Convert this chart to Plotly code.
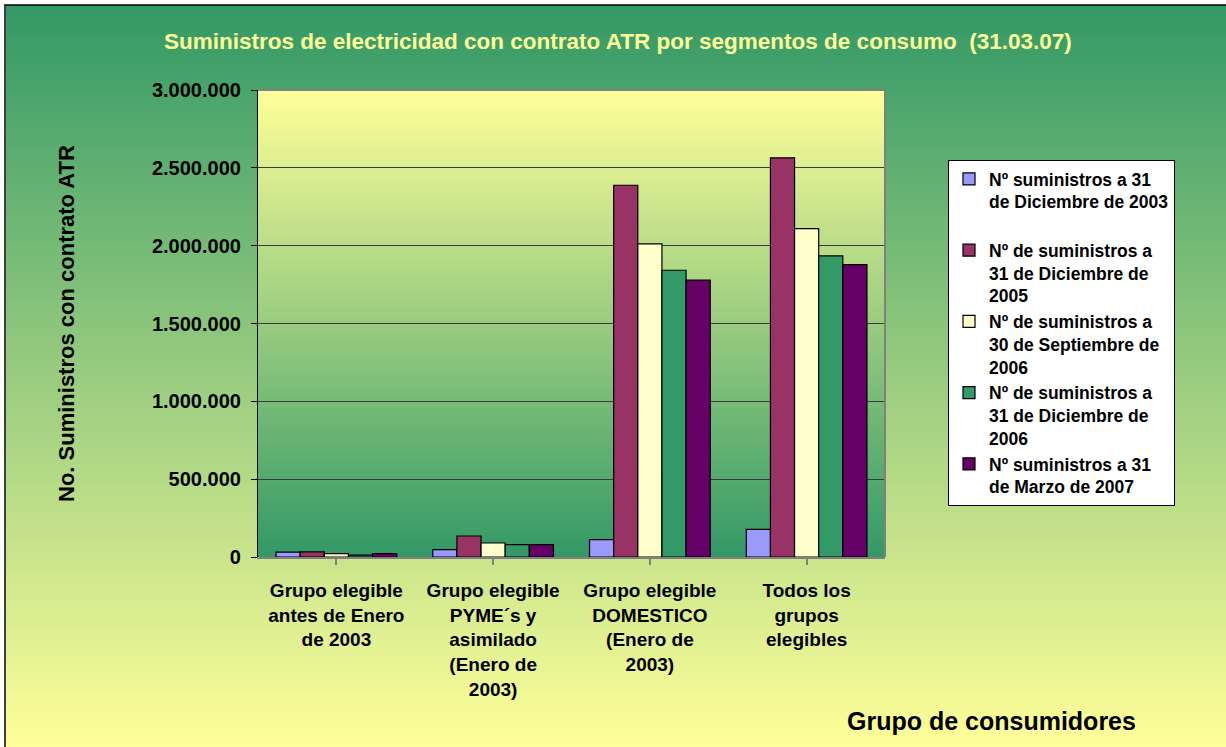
import base64, struct, zlib
import plotly.graph_objects as go

# ---------------- data ----------------
categories = [
    "Grupo elegible<br>antes de Enero<br>de 2003",
    "Grupo elegible<br>PYME´s y<br>asimilado<br>(Enero de<br>2003)",
    "Grupo elegible<br>DOMESTICO<br>(Enero de<br>2003)",
    "Todos los<br>grupos<br>elegibles",
]
series_names = [
    "Nº suministros a 31<br>de Diciembre de 2003<br> ",
    "Nº de suministros a<br>31 de Diciembre de<br>2005",
    "Nº de suministros a<br>30 de Septiembre de<br>2006",
    "Nº de suministros a<br>31 de Diciembre de<br>2006",
    "Nº suministros a 31<br>de Marzo de 2007",
]
dic_2003 = [31000, 47000, 111000, 177000]
dic_2005 = [33000, 135000, 2388000, 2564000]
sep_2006 = [22000, 90000, 2012000, 2110000]
dic_2006 = [12000, 79000, 1842000, 1934000]
mar_2007 = [22000, 79000, 1778000, 1878000]
series_values = [dic_2003, dic_2005, sep_2006, dic_2006, mar_2007]
series_colors = ["#9999FF", "#993366", "#FFFFCC", "#339966", "#660066"]
y_ticks = [0, 500000, 1000000, 1500000, 2000000, 2500000, 3000000]

title_text = "Suministros de electricidad con contrato ATR por segmentos de consumo  (31.03.07)"
y_title = "No. Suministros con contrato ATR"
x_title = "Grupo de consumidores"

W, H = 1226, 747
FONT = "Liberation Sans, Arial, sans-serif"


def px_x(p):
    return p / W


def px_y(p):
    return 1 - p / H


def gradient_png(c0, c1, n=256):
    rows = b""
    for i in range(n):
        t = i / (n - 1)
        px = bytes(int(round(a + (b - a) * t)) for a, b in zip(c0, c1))
        rows += b"\x00" + px + px
    def chunk(tag, data):
        return (struct.pack(">I", len(data)) + tag + data
                + struct.pack(">I", zlib.crc32(tag + data) & 0xFFFFFFFF))
    png = (b"\x89PNG\r\n\x1a\n"
           + chunk(b"IHDR", struct.pack(">IIBBBBB", 2, n, 8, 2, 0, 0, 0))
           + chunk(b"IDAT", zlib.compress(rows))
           + chunk(b"IEND", b""))
    return "data:image/png;base64," + base64.b64encode(png).decode()


green = (51, 153, 102)
yellow = (255, 255, 153)

fig = go.Figure()
for name, vals, col in zip(series_names, series_values, series_colors):
    fig.add_trace(go.Bar(
        x=list(range(len(categories))), y=vals, name=name,
        marker=dict(color=col, line=dict(color="black", width=1.2)),
    ))

plot_x0, plot_x1, plot_y0, plot_y1 = 258, 885, 90, 557

fig.update_layout(
    width=W, height=H,
    margin=dict(l=0, r=0, t=0, b=0, autoexpand=False),
    paper_bgcolor="white",
    plot_bgcolor="rgba(0,0,0,0)",
    separators=",.",
    barmode="group", bargap=0.23, bargroupgap=0,
    font=dict(family=FONT, color="black", size=18),
    showlegend=True,
    legend=dict(
        x=px_x(948), y=px_y(160), xanchor="left", yanchor="top",
        bgcolor="white", bordercolor="black", borderwidth=1,
        font=dict(family=FONT, size=17.5, color="black", weight="bold"),
        valign="top", traceorder="normal", itemwidth=30,
    ),
    xaxis=dict(
        domain=[px_x(plot_x0), px_x(plot_x1)],
        tickmode="array", tickvals=list(range(len(categories))), ticktext=categories,
        range=[-0.5, len(categories) - 0.5],
        tickson="boundaries", ticks="outside", ticklen=6, tickcolor="#808080", tickwidth=1.5,
        ticklabelstandoff=9,
        showline=True, linecolor="#808080", linewidth=2,
        showgrid=False, zeroline=False,
        tickfont=dict(family=FONT, size=19, color="black", weight="bold"),
        automargin=False,
    ),
    yaxis=dict(
        domain=[px_y(plot_y1), px_y(plot_y0)],
        range=[0, 3000000], tickmode="array", tickvals=y_ticks,
        tickformat=",.0f",
        ticks="outside", ticklen=6, tickcolor="black", tickwidth=1,
        ticklabelstandoff=6,
        showline=True, linecolor="black", linewidth=1.2,
        showgrid=True, gridcolor="#3a3a3a", gridwidth=1,
        zeroline=False,
        tickfont=dict(family=FONT, size=20, color="black", weight="bold"),
        automargin=False,
    ),
    images=[
        dict(source=gradient_png(green, yellow), xref="paper", yref="paper",
             x=px_x(6), y=px_y(5), sizex=1 - px_x(6), sizey=1 - 5 / H,
             sizing="stretch", xanchor="left", yanchor="top", layer="below"),
        dict(source=gradient_png(yellow, green), xref="x domain", yref="y domain",
             x=0, y=1, sizex=1, sizey=1,
             sizing="stretch", xanchor="left", yanchor="top", layer="below"),
    ],
    shapes=[
        dict(type="rect", xref="paper", yref="paper",
             x0=px_x(5), y0=px_y(800), x1=px_x(1300), y1=px_y(5),
             line=dict(color="black", width=1.5), fillcolor="rgba(0,0,0,0)", layer="above"),
        dict(type="line", xref="x domain", yref="y domain", x0=0, x1=1, y0=1, y1=1,
             line=dict(color="#808080", width=2)),
        dict(type="line", xref="x domain", yref="y domain", x0=1, x1=1, y0=0, y1=1,
             line=dict(color="#808080", width=2)),
    ],
    annotations=[
        dict(text=title_text, xref="paper", yref="paper", x=px_x(618), y=px_y(41),
             xanchor="center", yanchor="middle", showarrow=False,
             font=dict(family=FONT, size=22.5, color="#FFFF99", weight="bold")),
        dict(text=y_title, xref="paper", yref="paper", x=px_x(66), y=px_y(324),
             xanchor="center", yanchor="middle", showarrow=False, textangle=-90,
             font=dict(family=FONT, size=22, color="black", weight="bold")),
        dict(text=x_title, xref="paper", yref="paper", x=px_x(991), y=px_y(721),
             xanchor="center", yanchor="middle", showarrow=False,
             font=dict(family=FONT, size=25, color="black", weight="bold")),
    ],
)

fig.write_html("out.html", config={"displayModeBar": False},
               post_script="document.body.style.margin='0';")
